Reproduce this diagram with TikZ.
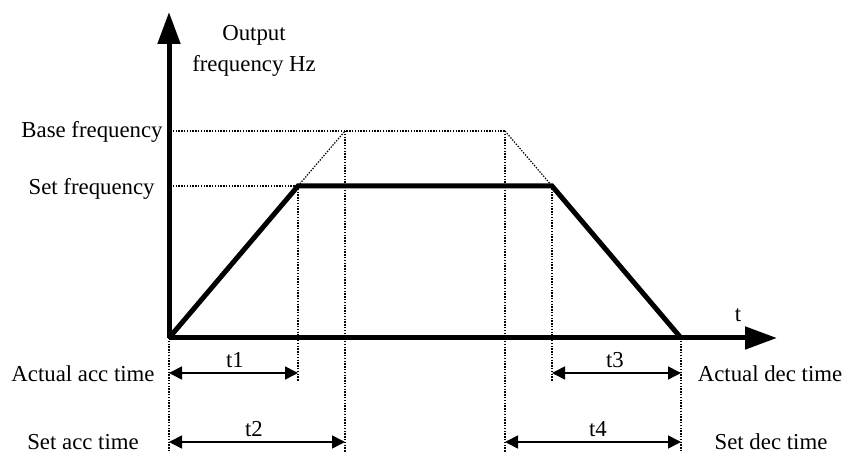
\documentclass[tikz,border=0pt]{standalone}
\usepackage{fontspec}
\setmainfont{Liberation Serif}
\usetikzlibrary{arrows.meta}
\begin{document}
\begin{tikzpicture}[x=0.5pt,y=-0.5pt,
  thickline/.style={line width=2.5pt},
  axisline/.style={line width=2.5pt,-{Triangle[length=16pt,width=11pt]}},
  dotline/.style={line width=0.6pt, dash pattern=on 0.7pt off 0.7pt},
  dimarrow/.style={line width=0.8pt, {Triangle[length=6.5pt,width=6.5pt]}-{Triangle[length=6.5pt,width=6.5pt]}},
  lbl/.style={font=\fontsize{11.4}{15.5}\selectfont, inner sep=0pt}]
\useasboundingbox (0,0) rectangle (847,453);
% key points
\coordinate (O) at (169,338);
\coordinate (ytip) at (169,12);
\coordinate (xtip) at (777,338);
\coordinate (A) at (298,186);
\coordinate (B) at (345,131);
\coordinate (C) at (505,131);
\coordinate (D) at (552,186);
\coordinate (E) at (681,338);
\coordinate (Bl) at (170,131);
\coordinate (Al) at (170,186);
\coordinate (Ob) at (169,453);
\coordinate (Ab) at (298,381);
\coordinate (Bb) at (345,453);
\coordinate (Cb) at (505,453);
\coordinate (Db) at (552,381);
\coordinate (Eb) at (681,453);
\coordinate (t1l) at (169,373);
\coordinate (t1r) at (298,373);
\coordinate (t2l) at (169,442);
\coordinate (t2r) at (345,442);
\coordinate (t3l) at (552,373);
\coordinate (t3r) at (681,373);
\coordinate (t4l) at (505,442);
\coordinate (t4r) at (681,442);
% dotted guides
\draw[dotline] (Bl) -- (C);
\draw[dotline] (Al) -- (A);
\draw[dotline] (A) -- (B);
\draw[dotline] (C) -- (D);
\draw[dotline] (O) -- (Ob);
\draw[dotline] (A) -- (Ab);
\draw[dotline] (B) -- (Bb);
\draw[dotline] (C) -- (Cb);
\draw[dotline] (D) -- (Db);
\draw[dotline] (E) -- (Eb);
% axes
\draw[axisline] (O) -- (ytip);
\draw[axisline] (O) -- (xtip);
% curve
\draw[thickline, line join=miter] (O) -- (A) -- (D) -- (E);
% dimension arrows
\draw[dimarrow] (t1l) -- (t1r);
\draw[dimarrow] (t2l) -- (t2r);
\draw[dimarrow] (t3l) -- (t3r);
\draw[dimarrow] (t4l) -- (t4r);
% labels
\node[lbl, anchor=north, align=center] (ylab) at (254,25) {Output\\frequency Hz};
\node[lbl, anchor=base east] (base) at (163,138) {Base frequency};
\node[lbl, anchor=base east] (setf) at (155,195) {Set frequency};
\node[lbl, anchor=base] (tlab) at (738,322) {t};
\node[lbl, anchor=base] (l1) at (235,368) {t1};
\node[lbl, anchor=base] (l2) at (254,437) {t2};
\node[lbl, anchor=base] (l3) at (615,368) {t3};
\node[lbl, anchor=base] (l4) at (598,437) {t4};
\node[lbl, anchor=base] (aat) at (83,382) {Actual acc time};
\node[lbl, anchor=base] (sat) at (83,450) {Set acc time};
\node[lbl, anchor=base] (adt) at (770,382) {Actual dec time};
\node[lbl, anchor=base] (sdt) at (771,450) {Set dec time};
\end{tikzpicture}
\end{document}
